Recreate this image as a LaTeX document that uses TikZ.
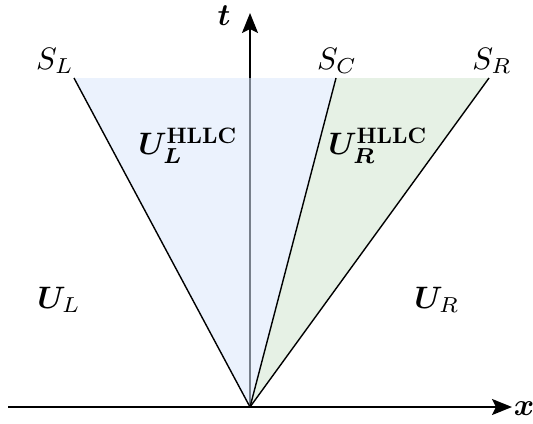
\documentclass[tikz,border=0pt]{standalone}
\usepackage{bm}
\usepackage{graphicx}
\usetikzlibrary{arrows.meta}
\newcommand{\hllc}{\scalebox{0.72}{$\mathbf{HLLC}$}}
\begin{document}
\begin{tikzpicture}[x=0.5pt,y=-0.5pt,
  lbl/.style={inner sep=0pt,scale=1.55,transform shape},
  axisline/.style={line width=1pt,-{Stealth[length=10pt,width=8pt,inset=2pt]}},
  fanline/.style={line width=0.7pt},
  bluefill/.style={fill={rgb,255:red,218;green,232;blue,252},fill opacity=0.55},
  greenfill/.style={fill={rgb,255:red,213;green,232;blue,212},fill opacity=0.6}]
\useasboundingbox (0,0) rectangle (533,423);
\coordinate (O) at (250,407);
\coordinate (L) at (74,78);
\coordinate (C) at (336,78);
\coordinate (R) at (489,78);
\coordinate (xs) at (8,407);
\coordinate (xe) at (512,407);
\coordinate (te) at (250,13);
% axes
\draw[axisline] (xs) -- (xe);
\draw[axisline] (O) -- (te);
% fills
\fill[bluefill] (L) -- (C) -- (O) -- cycle;
\fill[greenfill] (C) -- (R) -- (O) -- cycle;
% waves
\draw[fanline] (O) -- (L);
\draw[fanline] (O) -- (C);
\draw[fanline] (O) -- (R);
% labels
\node[lbl] (tl) at (224,16) {$\bm{t}$};
\node[lbl] (xl) at (524,409) {$\bm{x}$};
\node[lbl] (sl) at (55,61) {$S_L$};
\node[lbl] (sc) at (337,61) {$S_C$};
\node[lbl] (sr) at (492,61) {$S_R$};
\node[lbl] (ulh) at (188,146) {$\bm{U}_{\bm{L}}^{\hllc}$};
\node[lbl] (urh) at (378,146) {$\bm{U}_{\bm{R}}^{\hllc}$};
\node[lbl] (ul) at (59,300) {$\bm{U}_{L}$};
\node[lbl] (ur) at (437,300) {$\bm{U}_{R}$};
\end{tikzpicture}
\end{document}
